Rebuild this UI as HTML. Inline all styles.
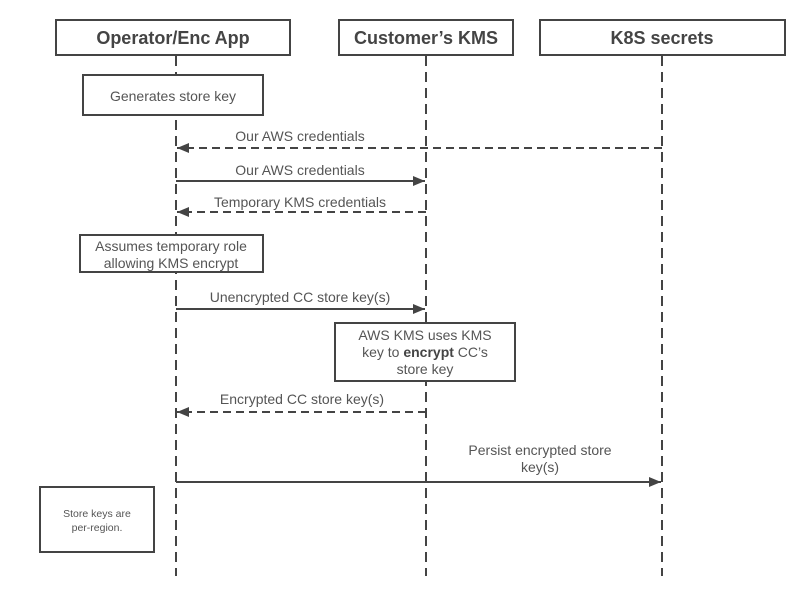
<!DOCTYPE html>
<html><head><style>body{margin:0;background:#fff}</style></head><body>
<svg width="808" height="607" xmlns="http://www.w3.org/2000/svg" font-family="Liberation Sans, Arial, sans-serif">
<defs><marker id="a" markerWidth="12" markerHeight="10" refX="12" refY="5" orient="auto" markerUnits="userSpaceOnUse"><path d="M0,0L12,5L0,10z" fill="#444"/></marker></defs>
<g stroke="#444" stroke-width="2" stroke-dasharray="10,6" fill="none">
<line x1="176" y1="56" x2="176" y2="576"/><line x1="426" y1="56" x2="426" y2="576"/><line x1="662" y1="56" x2="662" y2="576"/>
</g>
<g stroke="#444" stroke-width="2" fill="#fff">
<rect x="56" y="20" width="234" height="35"/><rect x="339" y="20" width="174" height="35"/><rect x="540" y="20" width="245" height="35"/>
<rect x="83" y="75" width="180" height="40"/><rect x="80" y="235" width="183" height="37"/><rect x="335" y="323" width="180" height="58"/><rect x="40" y="487" width="114" height="65"/>
</g>
<g font-weight="bold" font-size="18" fill="#444" text-anchor="middle">
<text x="173" y="44">Operator/Enc App</text><text x="426" y="44">Customer’s KMS</text><text x="662" y="44">K8S secrets</text>
</g>
<g font-size="14" fill="#555" text-anchor="middle">
<text x="173" y="101">Generates store key</text>
<text x="171" y="251">Assumes temporary role</text><text x="171" y="268">allowing KMS encrypt</text>
<text x="425" y="340">AWS KMS uses KMS</text><text x="425" y="357">key to <tspan font-weight="bold" fill="#444">encrypt</tspan> CC’s</text><text x="425" y="374">store key</text>
<text x="300" y="141">Our AWS credentials</text>
<text x="300" y="175">Our AWS credentials</text>
<text x="300" y="207">Temporary KMS credentials</text>
<text x="300" y="302">Unencrypted CC store key(s)</text>
<text x="302" y="404">Encrypted CC store key(s)</text>
<text x="540" y="455">Persist encrypted store</text><text x="540" y="472">key(s)</text>
<text x="97" y="517" font-size="10.5">Store keys are</text><text x="97" y="531" font-size="10.5">per-region.</text>
</g>
<g stroke="#444" stroke-width="2" fill="none">
<line x1="662" y1="148" x2="177" y2="148" stroke-dasharray="8,5" marker-end="url(#a)"/>
<line x1="176" y1="181" x2="425" y2="181" marker-end="url(#a)"/>
<line x1="426" y1="212" x2="177" y2="212" stroke-dasharray="8,5" marker-end="url(#a)"/>
<line x1="176" y1="309" x2="425" y2="309" marker-end="url(#a)"/>
<line x1="426" y1="412" x2="177" y2="412" stroke-dasharray="8,5" marker-end="url(#a)"/>
<line x1="176" y1="482" x2="661" y2="482" marker-end="url(#a)"/>
</g>
</svg>
</body></html>
